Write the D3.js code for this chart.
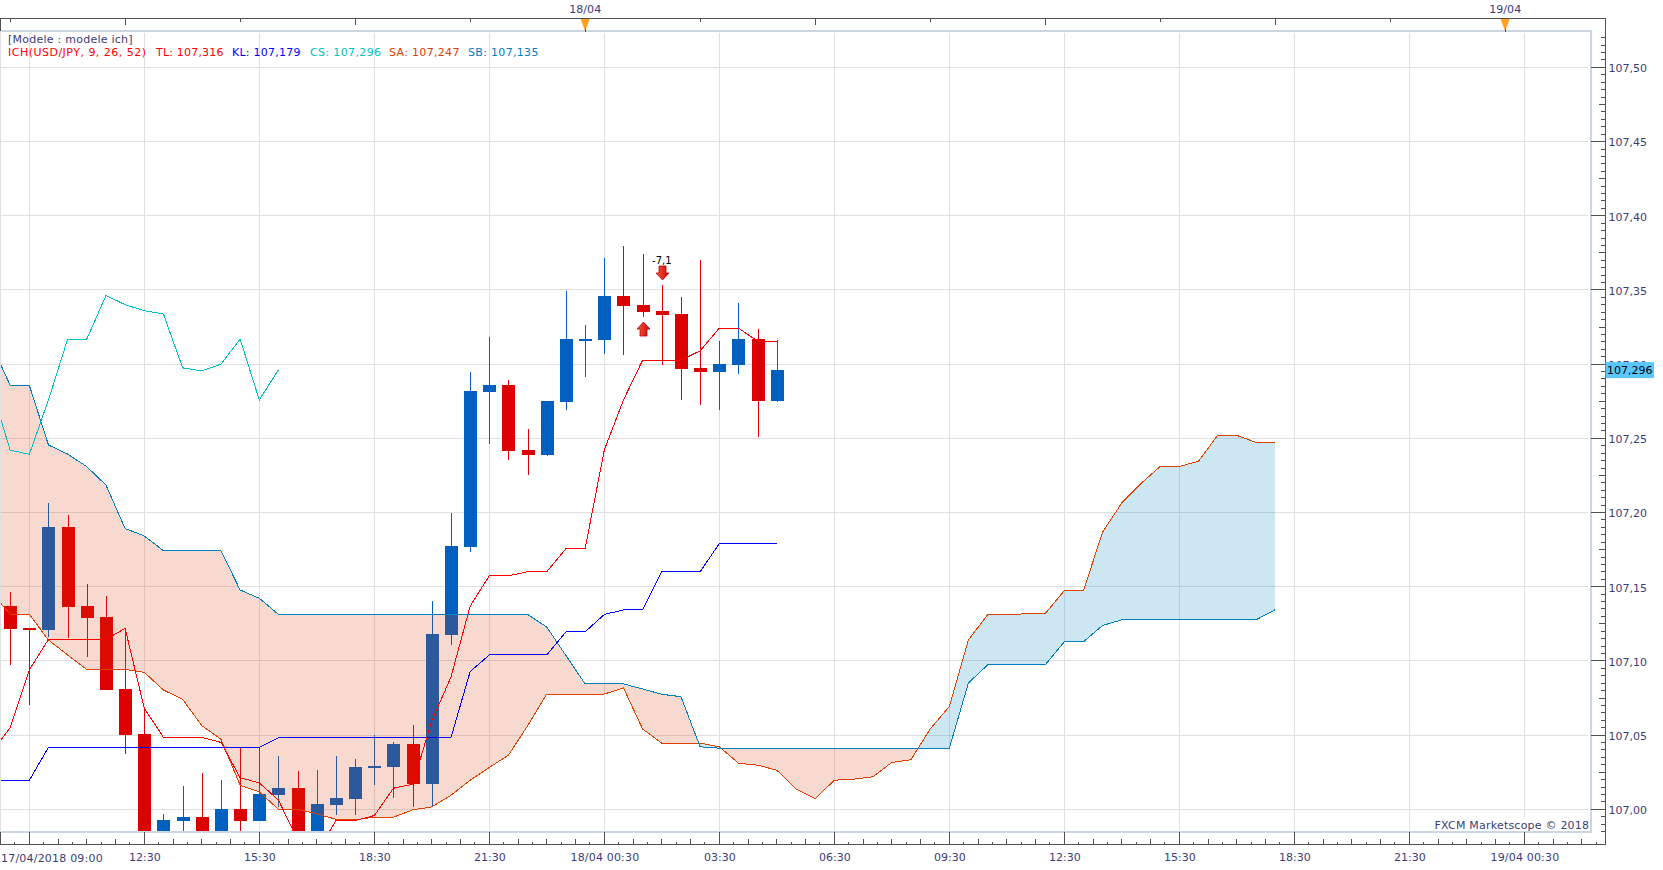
<!DOCTYPE html>
<html><head><meta charset="utf-8">
<script src="https://cdn.jsdelivr.net/npm/d3@7"></script>
<style>
html,body{margin:0;padding:0;background:#fff;overflow:hidden}
svg{display:block}
text{font-family:"DejaVu Sans",sans-serif;font-size:11px}
</style></head><body>
<svg id="c" width="1663" height="870"></svg>
<script>
// candles: the first one is bar index -1 (17/04/2018 09:00), 30 minute bars
const firstCandle = -1;
const opens = [107.1370,107.1222,107.1208,107.1902,107.1370,107.1296,107.0810,107.0507,106.98,106.9922,106.9949,106.98,107.0002,106.9922,107.0096,107.0142,106.98,107.0029,107.0069,107.0276,107.0282,107.0442,107.0169,107.1175,107.1769,107.2813,107.2860,107.2421,107.2387,107.2746,107.3167,107.3164,107.3462,107.3400,107.3360,107.3340,107.2975,107.2948,107.2996,107.3171,107.2752];
const closes = [107.1215,107.1208,107.1902,107.1365,107.1289,107.0804,107.0500,106.98,106.9929,106.9949,106.98,107.0002,106.9922,107.0102,107.0142,106.98,107.0036,107.0076,107.0282,107.0289,107.0442,107.0169,107.1182,107.1775,107.2820,107.2860,107.2415,107.2387,107.2752,107.3171,107.3171,107.3462,107.3394,107.3353,107.3333,107.2968,107.2948,107.3002,107.3171,107.2752,107.2962];
const highs = [107.1464,107.1222,107.2064,107.1983,107.1518,107.1437,107.1219,107.0692,106.9969,107.0156,107.0242,107.0196,107.0413,107.0413,107.0362,107.0256,107.0262,107.0362,107.0342,107.0502,107.0456,107.0569,107.1402,107.1995,107.2948,107.3185,107.2894,107.2563,107.2752,107.3495,107.3266,107.3718,107.3799,107.3745,107.3536,107.3455,107.3705,107.3158,107.3414,107.3239,107.3164];
const lows = [107.0973,107.0703,107.1163,107.1152,107.1026,107.0804,107.0372,106.98,106.98,106.98,106.98,106.98,106.98,106.9922,107.0013,106.98,106.98,106.9962,106.9962,107.0162,107.0076,107.0016,107.0013,107.1109,107.1735,107.2462,107.2354,107.2252,107.2380,107.2692,107.2914,107.3070,107.3063,107.3320,107.2995,107.2759,107.2725,107.2692,107.2935,107.2509,107.2746];

// Ichimoku lines: the first value of each is bar index -2
const firstLine = -2;
const tenkan = [107.0377,107.0550,107.0939,107.1145,107.1145,107.1145,107.1145,107.1219,107.0680,107.0485,107.0485,107.0485,107.0451,107.0213,107.0178,107.0062,106.9793,106.9707,106.9924,106.9924,106.9958,107.0142,107.0169,107.0596,107.0891,107.1369,107.1574,107.1574,107.1601,107.1601,107.1757,107.1757,107.2421,107.2759,107.3027,107.3027,107.3027,107.3090,107.3243,107.3243,107.3155,107.3155];
const kijun = [107.0195,107.0195,107.0195,107.0418,107.0418,107.0418,107.0418,107.0418,107.0418,107.0418,107.0418,107.0418,107.0418,107.0418,107.0418,107.0483,107.0483,107.0483,107.0483,107.0483,107.0483,107.0483,107.0483,107.0483,107.0483,107.0928,107.1040,107.1040,107.1040,107.1040,107.1196,107.1196,107.1313,107.1344,107.1344,107.1601,107.1601,107.1601,107.1791,107.1791,107.1791,107.1791];
const chikou = [107.2845,107.2421,107.2392,107.2759,107.3169,107.3169,107.3462,107.3401,107.3360,107.3338,107.2975,107.2955,107.3000,107.3169,107.2759,107.2962];
const senkouA = [107.1466,107.1314,107.1314,107.1141,107.1040,107.0943,107.0943,107.0943,107.0923,107.0804,107.0741,107.0564,107.0472,107.0162,107.0118,107.0000,107.0000,106.9969,106.9933,106.9929,106.9947,106.9947,106.9996,107.0016,107.0095,107.0196,107.0282,107.0365,107.0563,107.0777,107.0777,107.0777,107.0777,107.0818,107.0541,107.0446,107.0446,107.0446,107.0421,107.0311,107.0297,107.0264,107.0138,107.0072,107.0196,107.0203,107.0219,107.0316,107.0334,107.0541,107.0692,107.1142,107.1311,107.1311,107.1318,107.1318,107.1473,107.1473,107.1869,107.2065,107.2196,107.2311,107.2311,107.2345,107.2520,107.2520,107.2473,107.2473];
const senkouB = [107.3140,107.2858,107.2858,107.2455,107.2394,107.2309,107.2185,107.1892,107.1842,107.1743,107.1743,107.1743,107.1743,107.1478,107.1422,107.1314,107.1314,107.1314,107.1314,107.1314,107.1314,107.1314,107.1314,107.1314,107.1314,107.1314,107.1314,107.1314,107.1314,107.1228,107.1036,107.0845,107.0845,107.0845,107.0811,107.0775,107.0759,107.0421,107.0412,107.0412,107.0412,107.0412,107.0412,107.0412,107.0412,107.0412,107.0412,107.0412,107.0412,107.0412,107.0412,107.0852,107.0973,107.0973,107.0973,107.0973,107.1129,107.1129,107.1239,107.1277,107.1277,107.1277,107.1277,107.1277,107.1277,107.1277,107.1277,107.1345];

// axis labels, by bar index
const priceTicks = [107.00,107.05,107.10,107.15,107.20,107.25,107.30,107.35,107.40,107.45,107.50];
const timeTicks = [6,12,18,24,30,36,42,48,54,60,66,72,78];
const timeLabels = ["12:30","15:30","18:30","21:30","18/04 00:30","03:30","06:30","09:30","12:30","15:30","18:30","21:30","19/04 00:30"];
const gridBars = [0,6,12,18,24,30,36,42,48,54,60,66,72,78];
const dayBars = [29,77];
const dayLabels = ["18/04","19/04"];

// trades and current price
const tradeBars = [32,33];
const tradePrices = [107.3284,107.3567];
const tradeProfit = "-7,1";
const lastPrice = 107.296;
const legendItems = [
 {t:"ICH(USD/JPY, 9, 26, 52)",c:"#ff0000",x:8,w:138},
 {t:"TL: 107,316",c:"#ff0000",x:156,w:67.5},
 {t:"KL: 107,179",c:"#0000ff",x:232,w:68.6},
 {t:"CS: 107,296",c:"#00bfbf",x:310,w:71},
 {t:"SA: 107,247",c:"#e04000",x:389,w:70.4},
 {t:"SB: 107,135",c:"#0080c0",x:468,w:70.4}];

const textC="#3c3c78", axisC="#505050", frameC="#ccd6e0", gridC="#e0e0e0";
const svg=d3.select("#c");
const x=d3.scaleLinear().domain([0,78]).range([29.3,1524.3]);
const y=d3.scaleLinear().domain([107,107.5]).range([809.3,67.4]);
const plot={l:0,t:32,r:1590,b:831};
const comma=v=>v.replace(".",",");

const defs=svg.append("defs");
defs.append("clipPath").attr("id","plotClip").append("rect").attr("x",plot.l).attr("y",plot.t).attr("width",plot.r-plot.l).attr("height",plot.b-plot.t);
const lineIdx=(arr,first)=>arr.map((v,i)=>({k:i+first,v}));
const cloud=senkouA.map((a,i)=>({k:i+firstLine,a,b:senkouB[i]}));
defs.append("clipPath").attr("id","aboveA").append("path").attr("d",d3.area().x(d=>x(d.k)).y0(0).y1(d=>y(d.a))(cloud));
defs.append("clipPath").attr("id","belowA").append("path").attr("d",d3.area().x(d=>x(d.k)).y0(870).y1(d=>y(d.a))(cloud));
const grad=defs.append("linearGradient").attr("id","arrowFill").attr("x1",0).attr("x2",1).attr("y1",0).attr("y2",0);
grad.append("stop").attr("offset",0).attr("stop-color","#f06030");
grad.append("stop").attr("offset",1).attr("stop-color","#d00010");

// grid
const g=svg.append("g").attr("shape-rendering","crispEdges");
g.selectAll(".h").data(priceTicks).join("line").attr("class","h").attr("x1",plot.l).attr("x2",plot.r-2).attr("y1",d=>y(d)).attr("y2",d=>y(d)).attr("stroke",gridC);
g.selectAll(".v").data(gridBars).join("line").attr("class","v").attr("x1",d=>x(d)).attr("x2",d=>x(d)).attr("y1",plot.t+1).attr("y2",plot.b).attr("stroke",gridC);

// candles, then cloud on top of them, then lines
const main=svg.append("g").attr("clip-path","url(#plotClip)");
const candles=opens.map((o,i)=>({k:i+firstCandle,o,c:closes[i],h:highs[i],l:lows[i]}));
const cg=main.append("g").attr("shape-rendering","crispEdges");
const col=d=>d.c>=d.o?"#0060c0":"#dd0000";
cg.selectAll("line").data(candles).join("line")
 .attr("x1",d=>Math.round(x(d.k))+.5).attr("x2",d=>Math.round(x(d.k))+.5)
 .attr("y1",d=>y(d.h)).attr("y2",d=>y(d.l)).attr("stroke",col);
cg.selectAll("rect").data(candles).join("rect")
 .attr("x",d=>Math.round(x(d.k))-6).attr("width",12.5)
 .attr("y",d=>y(Math.max(d.o,d.c)))
 .attr("height",d=>Math.max(2,Math.abs(y(d.o)-y(d.c))))
 .attr("fill",col);

const band=d3.area().x(d=>x(d.k)).y0(d=>y(d.a)).y1(d=>y(d.b));
main.append("g").attr("clip-path","url(#aboveA)").append("path").attr("d",band(cloud)).attr("fill","#d84010").attr("fill-opacity",.2);
main.append("g").attr("clip-path","url(#belowA)").append("path").attr("d",band(cloud)).attr("fill","#0080c0").attr("fill-opacity",.2);

const lg=d3.line().x(d=>x(d.k)).y(d=>y(d.v));
[[chikou,"#00bfbf"],[senkouA,"#e04000"],[senkouB,"#0080c0"],[kijun,"#0000ff"],[tenkan,"#ff0000"]].forEach(([a,c])=>{
 main.append("path").attr("d",lg(lineIdx(a,firstLine))).attr("fill","none").attr("stroke",c).attr("stroke-width",1).attr("shape-rendering","crispEdges");
});

// trade arrows
const arrow=(k,p,dir)=>{
 const cx=Math.round(x(k))+.5, tip=y(p), s=dir; // s=1: points up, -1: points down
 const pts=[[0,0],[6.5,7*s],[3.5,7*s],[3.5,14*s],[-3.5,14*s],[-3.5,7*s],[-6.5,7*s]];
 main.append("path").attr("d",d3.line()(pts.map(q=>[cx+q[0],tip+q[1]]))+"Z").attr("fill","url(#arrowFill)").attr("stroke","#c00010").attr("stroke-width",.8);
};
arrow(tradeBars[0],tradePrices[0],1);
arrow(tradeBars[1],tradePrices[1],-1);
main.append("text").attr("x",x(tradeBars[1])).attr("y",y(tradePrices[1])-20).attr("dy","0.35em").attr("text-anchor","middle").attr("fill","#000").style("font-size","10px").text(tradeProfit);

// frame
const f=svg.append("g").attr("shape-rendering","crispEdges").attr("fill","none");
f.append("path").attr("d",`M${plot.l},31H${plot.r+.5}V${plot.b+.5}H${plot.l}`).attr("stroke",frameC).attr("stroke-width",2);
f.append("line").attr("x1",.5).attr("x2",.5).attr("y1",31).attr("y2",832).attr("stroke",gridC);
const rightX=1605.5, topY=18.5, bottomY=844.5;
f.append("path").attr("d",`M0.5,31V${topY}H${rightX}V${bottomY}H0M0.5,${bottomY}V832`).attr("stroke",axisC);

// right ticks
const v25=d=>d*40-Math.round(d*40);
const minor=d3.range(0,108).map(i=>106.985+i*0.005).filter(v=>Math.abs(v*20-Math.round(v*20))>1e-6);
f.selectAll(".m").data(minor).join("line").attr("class","m").attr("x1",d=>rightX-(Math.abs(v25(d))<1e-6?7:4.5)).attr("x2",rightX).attr("y1",d=>y(d)).attr("y2",d=>y(d)).attr("stroke",axisC);
f.selectAll(".M").data(priceTicks).join("line").attr("class","M").attr("x1",plot.r+1).attr("x2",rightX).attr("y1",d=>y(d)).attr("y2",d=>y(d)).attr("stroke",axisC);

// top and bottom ticks
const allTop=d3.range(-25,90,6).filter(k=>x(k)>=0&&x(k)<1600);
f.selectAll(".t").data(allTop).join("line").attr("class","t").attr("x1",d=>x(d)).attr("x2",d=>x(d)).attr("y1",topY).attr("y2",d=>((d-29)%12===0)?topY+6:topY+3).attr("stroke",axisC);
const steps=d3.range(-2,110).map(i=>i*0.75).filter(k=>x(k)>=0&&x(k)<1604);
f.selectAll(".b").data(steps).join("line").attr("class","b").attr("x1",d=>x(d)).attr("x2",d=>x(d)).attr("y2",bottomY)
 .attr("y1",d=>{const i=Math.round(d/0.75);return i%8===0?832:(i%2===0?bottomY-6:bottomY-3)}).attr("stroke",axisC);

// axes labels
const ya=d3.axisRight(y).tickValues(priceTicks).tickSize(0).tickPadding(3).tickFormat(d=>comma(d3.format(".2f")(d)));
const yg=svg.append("g").attr("transform",`translate(${rightX},0.8)`).call(ya);
yg.select(".domain").remove();
const xa=d3.axisBottom(x).tickValues(timeTicks).tickSize(0).tickPadding(0).tickFormat((d,i)=>timeLabels[i]);
const xg=svg.append("g").attr("transform","translate(0,853)").call(xa);
xg.select(".domain").remove();
svg.selectAll(".tick text").attr("fill",textC).style("font-family",'"DejaVu Sans",sans-serif').style("font-size","11px");
xg.selectAll(".tick text").filter((d,i)=>timeLabels[i].length>5).attr("textLength",68.7).attr("lengthAdjust","spacing");
svg.append("text").attr("x",1).attr("y",862).attr("fill",textC).attr("textLength",101.7).attr("lengthAdjust","spacing").text("17/04/2018 09:00");

// day markers
dayBars.forEach((k,i)=>{
 const cx=x(k);
 svg.append("path").attr("d",`M${cx-4.5},19H${cx+4.5}L${cx+.5},30H${cx-.5}Z`).attr("fill","#ffa020");
 svg.append("line").attr("x1",cx).attr("x2",cx).attr("y1",29).attr("y2",32).attr("stroke",axisC).attr("shape-rendering","crispEdges");
 svg.append("text").attr("x",cx).attr("y",13).attr("text-anchor","middle").attr("fill",textC).attr("textLength",32).attr("lengthAdjust","spacing").text(dayLabels[i]);
});

// price tag
const ly=y(lastPrice);
svg.append("rect").attr("x",rightX).attr("y",ly-8).attr("width",48.5).attr("height",16).attr("fill","#5ac8ff");
svg.append("text").attr("x",rightX+1.5).attr("y",ly+4).attr("fill","#000").text(comma(d3.format(".3f")(lastPrice)));

// legend and copyright
svg.append("text").attr("x",8).attr("y",43).attr("fill",textC).attr("textLength",124.6).attr("lengthAdjust","spacing").text("[Modele : modele ich]");
legendItems.forEach(d=>svg.append("text").attr("x",d.x).attr("y",56).attr("fill",d.c).attr("textLength",d.w).attr("lengthAdjust","spacing").text(d.t));
svg.append("rect").attr("x",1432).attr("y",818).attr("width",158).attr("height",13).attr("fill","#fff");
svg.append("text").attr("x",1589).attr("y",829).attr("text-anchor","end").attr("fill",textC).attr("textLength",154.5).attr("lengthAdjust","spacing").text("FXCM Marketscope © 2018");
</script>
</body></html>
